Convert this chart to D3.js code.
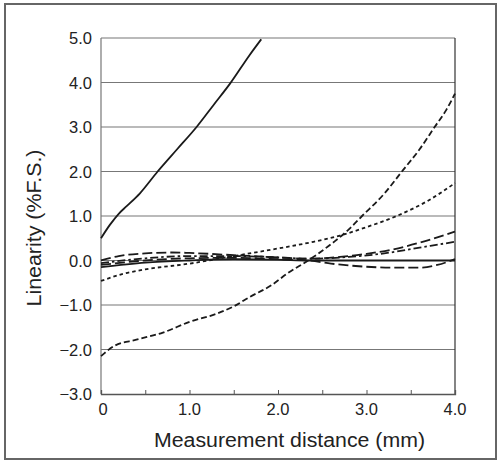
<!DOCTYPE html>
<html><head><meta charset="utf-8">
<script src="https://cdn.jsdelivr.net/npm/d3@7"></script>
<style>body{margin:0;background:#fff}svg{display:block}text{font-family:"Liberation Sans",Arial,sans-serif;fill:#222}</style>
</head><body>
<script>
const xTicks = [0, 1, 2, 3, 4];
const xTickLabels = ["0", "1.0", "2.0", "3.0", "4.0"];
const yTicks = [-3, -2, -1, 0, 1, 2, 3, 4, 5];
const yTickLabels = ["\u22123.0", "\u22122.0", "\u22121.0", "0.0", "1.0", "2.0", "3.0", "4.0", "5.0"];

const solidSteep = [[0,0.5],[0.1,0.8],[0.2,1.05],[0.29,1.22],[0.44,1.51],[0.64,2.0],[0.86,2.5],[1.08,3.0],[1.27,3.49],[1.46,3.98],[1.68,4.62],[1.81,4.97]];
const dashedSteep = [[0,-2.15],[0.15,-1.92],[0.4,-1.78],[0.7,-1.62],[1.0,-1.38],[1.3,-1.2],[1.5,-1.03],[1.68,-0.82],[1.93,-0.55],[2.1,-0.3],[2.34,0.0],[2.5,0.22],[2.64,0.43],[2.8,0.7],[2.95,1.0],[3.2,1.5],[3.4,2.0],[3.6,2.5],[3.77,3.0],[3.9,3.38],[4.0,3.75]];
const dotted = [[0,-0.46],[0.25,-0.3],[0.5,-0.2],[1.0,-0.07],[1.5,0.1],[2.0,0.27],[2.4,0.42],[2.7,0.56],[3.0,0.75],[3.34,1.0],[3.7,1.35],[4.0,1.74]];
const longDashRise = [[0,0.0],[0.2,0.1],[0.5,0.16],[0.8,0.18],[1.0,0.17],[1.5,0.12],[2.0,0.07],[2.35,0.04],[2.7,0.08],[3.0,0.15],[3.3,0.25],[3.6,0.4],[3.8,0.52],[4.0,0.65]];
const dashDot = [[0,-0.06],[0.5,0.05],[1.0,0.1],[1.5,0.1],[2.0,0.07],[2.35,0.04],[2.8,0.08],[3.2,0.16],[3.6,0.29],[4.0,0.42]];
const longDashDip = [[0,-0.1],[0.5,0.0],[1.0,0.05],[1.5,0.06],[2.0,0.03],[2.35,0.0],[2.6,-0.07],[3.0,-0.14],[3.3,-0.16],[3.6,-0.16],[3.8,-0.1],[4.0,0.03]];
const solidFlat = [[0,-0.15],[0.5,-0.05],[1.0,0.0],[1.5,0.03],[2.0,0.02],[2.35,0.0],[3.0,0.0],[4.0,0.0]];

const series = [
  {data: solidSteep, dash: null},
  {data: dashedSteep, dash: "6,3"},
  {data: dotted, dash: "3.5,3"},
  {data: longDashRise, dash: "10,4"},
  {data: dashDot, dash: "8,3,2.5,3"},
  {data: longDashDip, dash: "10,4"},
  {data: solidFlat, dash: null}
];

const W = 500, H = 462;
const svg = d3.select("body").append("svg").attr("width", W).attr("height", H);
svg.append("rect").attr("x", 5).attr("y", 4).attr("width", 491).attr("height", 455)
  .attr("fill", "none").attr("stroke", "#666").attr("stroke-width", 2);

const x = d3.scaleLinear().domain([0, 4]).range([101, 455]);
const y = d3.scaleLinear().domain([-3, 5]).range([394, 38]);

svg.append("g").selectAll("line").data(yTicks.slice(1)).join("line")
  .attr("x1", x(0)).attr("x2", x(4)).attr("y1", d => y(d)).attr("y2", d => y(d))
  .attr("stroke", "#777").attr("stroke-width", 1.2);
svg.append("line").attr("x1", x(0)).attr("x2", x(0)).attr("y1", y(5)).attr("y2", y(-3)).attr("stroke", "#777").attr("stroke-width", 1.2);
svg.append("line").attr("x1", x(4)).attr("x2", x(4)).attr("y1", y(5)).attr("y2", y(-3)).attr("stroke", "#333").attr("stroke-width", 1.2);

const xAxis = d3.axisBottom(x).tickValues(d3.range(0, 4.01, 0.5)).tickSize(-4).tickFormat("");
const gx = svg.append("g").attr("transform", `translate(0,${y(-3)})`).call(xAxis);
gx.select(".domain").attr("stroke", "#555").attr("stroke-width", 1.3);
gx.selectAll(".tick line").attr("stroke", "#555").attr("stroke-width", 1);

svg.append("g").selectAll("text").data(xTicks).join("text")
  .attr("x", (d, i) => x(d) + (i === 0 ? 2 : 0)).attr("y", 415)
  .attr("text-anchor", "middle").attr("font-size", 16.5)
  .text((d, i) => xTickLabels[i]);

svg.append("g").selectAll("text").data(yTicks).join("text")
  .attr("x", 92).attr("y", d => y(d) + 6)
  .attr("text-anchor", "end").attr("font-size", 16.5)
  .text((d, i) => yTickLabels[i]);

svg.append("text").attr("x", 289.5).attr("y", 447).attr("text-anchor", "middle")
  .attr("font-size", 19.5).attr("textLength", 271).attr("lengthAdjust", "spacingAndGlyphs")
  .text("Measurement distance (mm)");
svg.append("text").attr("transform", "translate(41,228) rotate(-90)").attr("text-anchor", "middle")
  .attr("font-size", 19.5).attr("textLength", 157).attr("lengthAdjust", "spacingAndGlyphs")
  .text("Linearity (%F.S.)");

const line = d3.line().x(d => x(d[0])).y(d => y(d[1])).curve(d3.curveMonotoneX);
svg.append("g").selectAll("path").data(series).join("path")
  .attr("d", s => line(s.data)).attr("fill", "none")
  .attr("stroke", "#1a1a1a").attr("stroke-width", 1.8)
  .attr("stroke-dasharray", s => s.dash);
</script>
</body></html>
